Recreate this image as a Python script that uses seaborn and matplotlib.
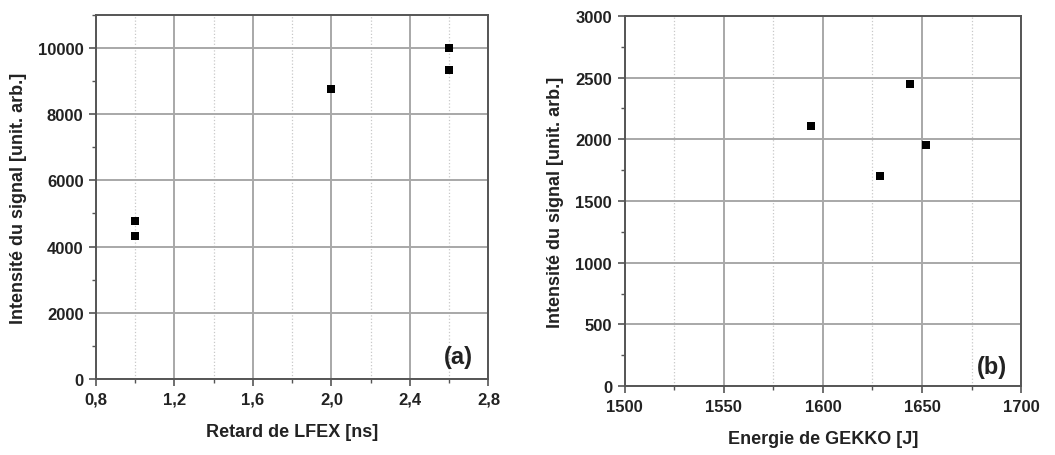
import matplotlib
matplotlib.use("Agg")
import matplotlib.pyplot as plt
import numpy as np
import pandas as pd
import seaborn as sns
from matplotlib.ticker import MultipleLocator, FuncFormatter

# panel (a): signal vs LFEX delay
delay_ns = [1.0, 1.0, 2.0, 2.6, 2.6]
signal_a = [4760, 4330, 8770, 10000, 9330]

# panel (b): signal vs GEKKO energy
energy_j = [1594, 1629, 1644, 1652]
signal_b = [2110, 1700, 2450, 1950]

sns.set_theme(style="white")
plt.rcParams["font.family"] = ["Liberation Sans", "DejaVu Sans"]
plt.rcParams["font.weight"] = "bold"

fig = plt.figure(figsize=(10.55, 4.56), dpi=100)
ax_a = fig.add_axes([0.091, 0.167, 0.372, 0.798])
ax_b = fig.add_axes([0.592, 0.151, 0.376, 0.812])

df_a = pd.DataFrame({"x": delay_ns, "y": signal_a})
df_b = pd.DataFrame({"x": energy_j, "y": signal_b})

for ax, df in [(ax_a, df_a), (ax_b, df_b)]:
    sns.scatterplot(data=df, x="x", y="y", ax=ax, marker="s", color="black",
                    s=34, edgecolor="black", linewidth=0, zorder=5)


def style(ax, xlim, ylim, xmaj, xmin, ymaj, ymin, xlabel, tag, tagpos):
    ax.set_xlim(*xlim)
    ax.set_ylim(*ylim)
    ax.xaxis.set_major_locator(MultipleLocator(xmaj))
    ax.xaxis.set_minor_locator(MultipleLocator(xmin))
    ax.yaxis.set_major_locator(MultipleLocator(ymaj))
    ax.yaxis.set_minor_locator(MultipleLocator(ymin))
    ax.grid(True, which="major", color="#a8a8a8", linewidth=1.4)
    ax.grid(True, which="minor", axis="x", color="#c8c8c8", linewidth=0.9, linestyle=":")
    ax.set_axisbelow(True)
    for sp in ax.spines.values():
        sp.set_color("#555555")
        sp.set_linewidth(1.4)
    ax.tick_params(which="major", direction="out", length=5, width=1.2, color="#555555",
                   bottom=True, left=True, top=False, right=False, labelsize=12, pad=4)
    ax.tick_params(which="minor", direction="out", length=3, width=1.0, color="#555555",
                   bottom=True, left=True, top=False, right=False)
    for lab in ax.get_xticklabels() + ax.get_yticklabels():
        lab.set_fontweight("bold")
        lab.set_color("#222222")
    ax.set_xlabel(xlabel, fontsize=13, fontweight="bold", labelpad=12, color="#222222")
    ax.set_ylabel("Intensité du signal [unit. arb.]", fontsize=13, fontweight="bold",
                  labelpad=8, color="#222222")
    ax.text(tagpos[0], tagpos[1], tag, transform=ax.transAxes, ha="right", va="bottom",
            fontsize=17, fontweight="bold", color="#222222")


style(ax_a, (0.8, 2.8), (0, 11000), 0.4, 0.2, 2000, 1000, "Retard de LFEX [ns]", "(a)",
      (0.96, 0.03))
ax_a.xaxis.set_major_formatter(FuncFormatter(lambda v, p: f"{v:.1f}".replace(".", ",")))
ax_a.yaxis.set_major_formatter(FuncFormatter(lambda v, p: f"{v:.0f}"))

style(ax_b, (1500, 1700), (0, 3000), 50, 25, 500, 250, "Energie de GEKKO [J]", "(b)",
      (0.963, 0.022))

fig.savefig("out.png", dpi=100)
